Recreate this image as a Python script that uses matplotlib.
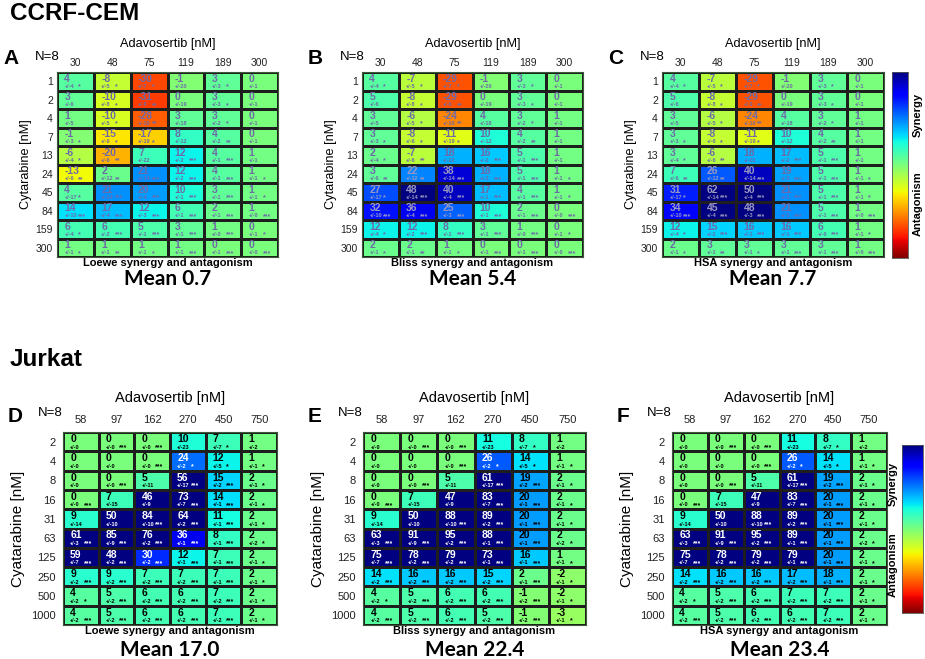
import numpy as np
import matplotlib.pyplot as plt
from matplotlib.colors import Normalize

W, H = 925, 659

# concentrations
adav_cem = ['30', '48', '75', '119', '189', '300']
cyt_cem = ['1', '2', '4', '7', '13', '24', '45', '84', '159', '300']
adav_jur = ['58', '97', '162', '270', '450', '750']
cyt_jur = ['2', '4', '8', '16', '31', '63', '125', '250', '500', '1000']

# CCRF-CEM synergy scores
loewe_cem = [[4, -8, -30, -1, 3, 0],
             [3, -10, -31, 0, 3, 0],
             [1, -10, -28, 3, 3, 0],
             [-1, -15, -17, 8, 4, 0],
             [-6, -20, 7, 12, 4, 1],
             [-13, 2, 21, 12, 4, 1],
             [4, 21, 20, 10, 3, 1],
             [14, 17, 12, 6, 2, 1],
             [6, 6, 5, 3, 1, 0],
             [1, 1, 1, 1, 0, 0]]
bliss_cem = [[4, -7, -29, -1, 3, 0],
             [5, -8, -29, 0, 3, 0],
             [3, -6, -24, 4, 3, 1],
             [3, -8, -11, 10, 4, 1],
             [2, -7, 18, 16, 5, 1],
             [3, 22, 38, 18, 5, 1],
             [27, 48, 40, 17, 4, 1],
             [32, 36, 25, 10, 2, 0],
             [12, 12, 8, 3, 1, 0],
             [2, 2, 1, 0, 0, 0]]
hsa_cem = [[4, -7, -29, -1, 3, 0],
           [5, -8, -29, 0, 3, 0],
           [3, -6, -24, 4, 3, 1],
           [3, -8, -11, 10, 4, 1],
           [3, -6, 18, 17, 5, 1],
           [7, 26, 40, 19, 5, 1],
           [31, 62, 50, 21, 5, 1],
           [34, 45, 48, 21, 5, 1],
           [12, 15, 16, 16, 6, 1],
           [2, 3, 3, 3, 3, 1]]
sd_cem = [[4, 5, 7, 20, 3, 1],
          [6, 8, 9, 19, 3, 1],
          [5, 5, 10, 18, 2, 1],
          [3, 6, 19, 12, 2, 1],
          [4, 6, 22, 2, 1, 1],
          [6, 12, 14, 2, 1, 1],
          [17, 14, 4, 1, 1, 1],
          [10, 4, 3, 1, 1, 0],
          [4, 2, 1, 1, 0, 1],
          [1, 1, 1, 1, 1, 0]]
stars_cem = [[1, 1, 1, 0, 1, 0],
             [0, 1, 2, 0, 1, 0],
             [0, 1, 2, 0, 1, 0],
             [1, 1, 1, 0, 2, 0],
             [1, 2, 0, 3, 3, 0],
             [2, 2, 3, 3, 3, 1],
             [1, 3, 3, 3, 3, 1],
             [3, 3, 3, 3, 3, 3],
             [1, 3, 3, 3, 3, 1],
             [1, 2, 1, 3, 3, 3]]

# Jurkat synergy scores
loewe_jur = [[0, 0, 0, 10, 7, 1],
             [0, 0, 0, 24, 12, 1],
             [0, 0, 5, 56, 15, 2],
             [0, 7, 46, 73, 14, 2],
             [9, 50, 84, 64, 11, 2],
             [61, 85, 76, 36, 8, 2],
             [59, 48, 30, 12, 7, 2],
             [9, 9, 7, 7, 7, 2],
             [4, 5, 6, 6, 7, 2],
             [4, 5, 6, 6, 7, 2]]
bliss_jur = [[0, 0, 0, 11, 8, 1],
             [0, 0, 0, 26, 14, 1],
             [0, 0, 5, 61, 19, 2],
             [0, 7, 47, 83, 20, 2],
             [9, 50, 88, 89, 20, 2],
             [63, 91, 95, 88, 20, 2],
             [75, 78, 79, 73, 16, 1],
             [14, 16, 16, 15, 2, -2],
             [4, 5, 6, 6, -1, -2],
             [4, 5, 6, 5, -1, -3]]
hsa_jur = [[0, 0, 0, 11, 8, 1],
           [0, 0, 0, 26, 14, 1],
           [0, 0, 5, 61, 19, 2],
           [0, 7, 47, 83, 20, 2],
           [9, 50, 88, 89, 20, 2],
           [63, 91, 95, 89, 20, 2],
           [75, 78, 79, 79, 20, 2],
           [14, 16, 16, 17, 18, 2],
           [4, 5, 6, 7, 7, 2],
           [4, 5, 6, 6, 7, 2]]
sd_jur = [[0, 0, 0, 23, 7, 2],
          [0, 0, 0, 2, 5, 1],
          [0, 0, 11, 17, 2, 1],
          [0, 15, 9, 7, 1, 1],
          [14, 10, 10, 2, 1, 1],
          [3, 9, 2, 1, 1, 2],
          [7, 2, 2, 1, 1, 1],
          [2, 2, 2, 2, 1, 1],
          [2, 2, 2, 2, 2, 1],
          [2, 2, 2, 2, 2, 1]]
stars_jur = [[0, 3, 3, 0, 1, 0],
             [0, 0, 3, 1, 1, 1],
             [0, 3, 0, 3, 3, 1],
             [3, 0, 0, 3, 3, 1],
             [0, 0, 3, 3, 3, 1],
             [3, 3, 3, 3, 3, 1],
             [3, 3, 3, 3, 3, 1],
             [3, 3, 3, 3, 3, 1],
             [1, 3, 3, 3, 3, 1],
             [3, 3, 3, 3, 3, 1]]

means = ['0.7', '5.4', '7.7', '17.0', '22.4', '23.4']

cmap = plt.get_cmap('jet_r')
norm = Normalize(-45, 45)
SANS = 'Liberation Sans'

fig = plt.figure(figsize=(W / 100, H / 100), dpi=100)


def box(x0, y0, x1, y1):
    return [x0 / W, 1 - y1 / H, (x1 - x0) / W, (y1 - y0) / H]


def ftext(x, y, s, **kw):
    kw.setdefault('family', SANS)
    fig.text(x / W, 1 - y / H, s, **kw)


def heatmap(rect, vals, sd, stars, xt, yt, letter, method, mean, jurkat):
    x0, y0, x1, y1 = rect
    ax = fig.add_axes(box(*rect))
    v = np.array(vals)
    ax.pcolormesh(v, cmap=cmap, norm=norm, edgecolors='#1e1e1e', linewidth=0.8)
    ax.set_xlim(0, 6)
    ax.set_ylim(10, 0)
    ax.xaxis.tick_top()
    ax.set_xticks(np.arange(6) + 0.5, xt)
    ax.set_yticks(np.arange(10) + 0.5, yt)
    fs = 8 if jurkat else 7.5
    ax.tick_params(length=0, labelsize=fs, pad=5 if jurkat else 3, colors='#222222')
    for lab in ax.get_xticklabels() + ax.get_yticklabels():
        lab.set_family(SANS)
    for s in ax.spines.values():
        s.set_color('#3a5a3a')
        s.set_linewidth(0.8)
    for i in range(10):
        for j in range(6):
            if jurkat:
                c = 'white' if v[i, j] >= 23 else 'black'
            else:
                c = '#9a98c0' if v[i, j] >= 22 else '#6e6aa8'
            ax.text(j + 0.2, i + 0.36, str(v[i, j]), fontsize=7.5, fontweight='bold',
                    color=c, ha='left', va='center', family=SANS)
            ax.text(j + 0.2, i + 0.78, '+/-%d' % sd[i][j], fontsize=4,
                    fontweight='bold', color=c, ha='left', va='center', family=SANS)
            if stars[i][j]:
                ax.text(j + 0.58, i + 0.8, '*' * stars[i][j], fontsize=5,
                        fontweight='bold', color=c, ha='left', va='center', family=SANS)
    cx = (x0 + x1) / 2
    ty = y0 - (34 if jurkat else 28)
    ftext(cx, ty, 'Adavosertib [nM]', fontsize=10.5 if jurkat else 9.2,
          ha='center', va='center')
    ylab = 'Cyatarabine [nM]' if jurkat else 'Cytarabine [nM]'
    ftext(x0 - (45 if jurkat else 31), (y0 + y1) / 2, ylab, fontsize=11 if jurkat else 9.2,
          rotation=90, ha='center', va='center')
    ftext(x0 - (55 if jurkat else 54), y0 - (15 if jurkat else 13), letter, fontsize=15,
          fontweight='bold', ha='left', va='center')
    ftext(x0 - (25 if jurkat else 22), y0 - (19 if jurkat else 15), 'N=8', fontsize=9.5,
          ha='left', va='center')
    ftext(cx, y1 + 6, method + ' synergy and antagonism', fontsize=8,
          fontweight='bold', ha='center', va='center')
    ftext(cx, y1 + (25 if jurkat else 22), 'Mean ' + mean, fontsize=15,
          fontweight='bold', ha='center', va='center', family='Lato')


def colorbar(rect, left_labels):
    x0, y0, x1, y1 = rect
    cax = fig.add_axes(box(*rect))
    grad = np.linspace(-45, 45, 256).reshape(-1, 1)
    cax.imshow(grad, aspect='auto', cmap=cmap, norm=norm, origin='lower')
    cax.set_xticks([])
    cax.set_yticks([])
    for s in cax.spines.values():
        s.set_color('#555555')
        s.set_linewidth(0.6)
    lx = x0 - 9 if left_labels else x1 + 10
    h = y1 - y0
    ftext(lx, y0 + 0.23 * h, 'Synergy', fontsize=8, fontweight='bold', rotation=90,
          ha='center', va='center')
    ftext(lx, y0 + 0.71 * h, 'Antagonism', fontsize=8, fontweight='bold', rotation=90,
          ha='center', va='center')


ftext(10, 13, 'CCRF-CEM', fontsize=17.5, fontweight='bold', ha='left', va='center')
ftext(10, 360, 'Jurkat', fontsize=17.5, fontweight='bold', ha='left', va='center')

heatmap((57, 72, 278, 257), loewe_cem, sd_cem, stars_cem, adav_cem, cyt_cem, 'A', 'Loewe', means[0], False)
heatmap((362, 72, 583, 257), bliss_cem, sd_cem, stars_cem, adav_cem, cyt_cem, 'B', 'Bliss', means[1], False)
heatmap((662, 72, 884, 257), hsa_cem, sd_cem, stars_cem, adav_cem, cyt_cem, 'C', 'HSA', means[2], False)
heatmap((63, 432, 277, 625), loewe_jur, sd_jur, stars_jur, adav_jur, cyt_jur, 'D', 'Loewe', means[3], True)
heatmap((363, 432, 586, 625), bliss_jur, sd_jur, stars_jur, adav_jur, cyt_jur, 'E', 'Bliss', means[4], True)
heatmap((672, 432, 887, 625), hsa_jur, sd_jur, stars_jur, adav_jur, cyt_jur, 'F', 'HSA', means[5], True)

colorbar((892, 72, 908, 258), False)
colorbar((902, 445, 923, 613), True)

fig.savefig('out.png', dpi=100)
